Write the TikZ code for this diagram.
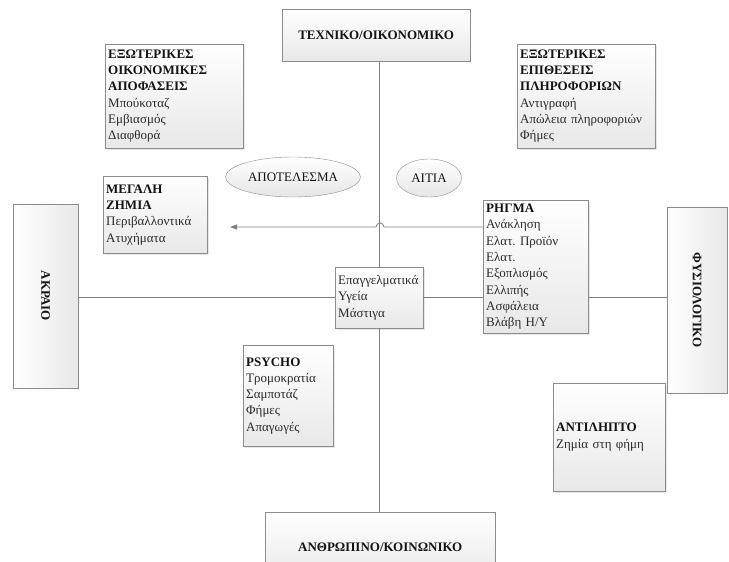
\documentclass[tikz,border=0pt]{standalone}
\usepackage{fontspec}
\setmainfont{Liberation Serif}
\usetikzlibrary{shapes.geometric,shadows,arrows.meta}
\definecolor{edge}{HTML}{8C8C8C}
\definecolor{axis}{HTML}{7F7F7F}
\definecolor{ink}{HTML}{141414}
\definecolor{body}{HTML}{2A2A2A}
\frenchspacing
\begin{document}
\begin{tikzpicture}[x=1pt,y=-1pt,font=\fontsize{13}{16.3}\selectfont,
  panel/.style={draw=edge,top color=white,bottom color=black!9,
    drop shadow={opacity=0.18,shadow xshift=1.5pt,shadow yshift=-1.5pt},
    anchor=north west,align=left,inner xsep=3pt,inner ysep=2pt,text=body},
  headbox/.style={draw=edge,top color=white,bottom color=black!9,
    anchor=north west,align=center,text=ink,font=\fontsize{13}{16}\selectfont\bfseries},
  sidebox/.style={draw=edge,left color=white,right color=black!9,rotate=-90,
    text=ink,font=\fontsize{13}{16}\selectfont\bfseries},
  tag/.style={ellipse,draw=edge,top color=white,bottom color=black!10,inner sep=0pt,text=ink},
  axisline/.style={draw=axis,line width=0.8pt}]
  \useasboundingbox (0,0) rectangle (729,562);

  % four directions
  \node[headbox,minimum width=188pt,minimum height=52pt] (tech) at (282,9) {ΤΕΧΝΙΚΟ/ΟΙΚΟΝΟΜΙΚΟ};
  \node[headbox,minimum width=230pt,minimum height=70pt] (human) at (265,512) {ΑΝΘΡΩΠΙΝΟ/ΚΟΙΝΩΝΙΚΟ};
  \node[sidebox,minimum width=184pt,minimum height=65pt] (extreme) at (45.5,296) {ΑΚΡΑΙΟ};
  \node[sidebox,minimum width=186pt,minimum height=60pt] (physio) at (697,300) {ΦΥΣΙΟΛΟΓΙΚΟ};

  % centre
  \node[panel,text width=82pt,minimum height=61pt] (core) at (335,267)
    {Επαγγελματικά\\Υγεία\\Μάστιγα};

  % quadrants
  \node[panel,text width=132pt,minimum height=104pt] (ecodec) at (105,44)
    {\textcolor{ink}{\textbf{ΕΞΩΤΕΡΙΚΕΣ}}\\\textcolor{ink}{\textbf{ΟΙΚΟΝΟΜΙΚΕΣ}}\\\textcolor{ink}{\textbf{ΑΠΟΦΑΣΕΙΣ}}\\Μπούκοταζ\\Εμβιασμός\\Διαφθορά};
  \node[panel,text width=132pt,minimum height=104pt] (infoatk) at (517,44)
    {\textcolor{ink}{\textbf{ΕΞΩΤΕΡΙΚΕΣ}}\\\textcolor{ink}{\textbf{ΕΠΙΘΕΣΕΙΣ}}\\\textcolor{ink}{\textbf{ΠΛΗΡΟΦΟΡΙΩΝ}}\\Αντιγραφή\\Απώλεια πληροφοριών\\Φήμες};
  \node[panel,text width=98pt,minimum height=77pt] (harm) at (103,176)
    {\textcolor{ink}{\textbf{ΜΕΓΑΛΗ}}\\\textcolor{ink}{\textbf{ΖΗΜΙΑ}}\\Περιβαλλοντικά\\Ατυχήματα};
  \node[panel,text width=99pt,minimum height=133pt] (rift) at (483,200)
    {\textcolor{ink}{\textbf{ΡΗΓΜΑ}}\\Ανάκληση\\Ελατ. Προϊόν\\Ελατ.\\Εξοπλισμός\\Ελλιπής\\Ασφάλεια\\Βλάβη Η/Υ};
  \node[panel,text width=84pt,minimum height=101pt] (psycho) at (243,345)
    {\textcolor{ink}{\textbf{PSYCHO}}\\Τρομοκρατία\\Σαμποτάζ\\Φήμες\\Απαγωγές};
  \node[panel,text width=106pt,minimum height=108pt] (percept) at (553,383)
    {\textcolor{ink}{\textbf{ΑΝΤΙΛΗΠΤΟ}}\\Ζημία στη φήμη};

  % result / cause
  \node[tag,minimum width=135pt,minimum height=40pt] (result) at (293,177) {ΑΠΟΤΕΛΕΣΜΑ};
  \node[tag,minimum width=65pt,minimum height=38pt] (cause) at (429,178) {ΑΙΤΙΑ};

  % axes
  \draw[axisline] (core.north |- tech.south) -- (core.north);
  \draw[axisline] (core.south) -- (core.south |- human.north);
  \draw[axisline] (core.west -| extreme.north) -- (core.west);
  \draw[axisline] (core.east) -- (core.east -| rift.west);
  \draw[axisline] (core.east -| rift.east) -- (core.east -| physio.south);

  % effect arrow
  \coordinate (harmtip) at (230,227);
  \draw[axisline,-{Triangle[length=7pt,width=5pt]}] (rift.west |- harmtip) -- (384,227)
    arc[start angle=0,end angle=-180,radius=4] -- (harmtip);
\end{tikzpicture}
\end{document}
